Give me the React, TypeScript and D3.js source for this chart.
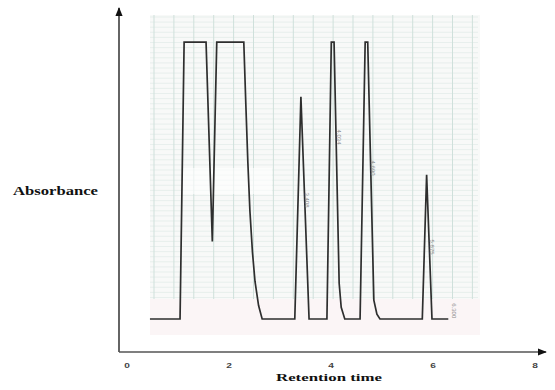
import React from "react";
import * as d3 from "d3";

// Chromatogram trace (retention time, absorbance in arbitrary units)
const traceTime = [0.45, 1.04, 1.12, 1.55, 1.673, 1.76, 2.29, 2.33, 2.37, 2.41, 2.46, 2.51, 2.58, 2.65, 3.29, 3.41, 3.57, 3.92, 4.006, 4.06, 4.16, 4.2, 4.27, 4.57, 4.67, 4.72, 4.84, 4.9, 4.96, 5.79, 5.875, 5.98, 6.3];
const traceAbs = [9.6, 9.6, 90.1, 90.1, 32.1, 90.1, 90.1, 72, 55, 41, 29, 20.5, 13.5, 9.6, 9.6, 74.2, 9.6, 9.6, 90.1, 90.1, 20, 13, 9.6, 9.6, 90.1, 90.1, 15.1, 11, 9.6, 9.6, 51.5, 9.6, 9.6];

// integrator annotations printed beside peaks
const annoTime = [3.49, 4.12, 4.78, 5.95, 6.38];
const annoAbs = [44.2, 62.5, 53.5, 30.5, 12];
const annoText = ["3.408", "4.034", "4.690", "5.875", "6.300"];

const xTicks = [0, 2, 4, 6, 8];

const W = 555;
const H = 390;

export default function App() {
  const x = d3.scaleLinear().domain([0, 8]).range([127, 535]);
  const y = d3.scaleLinear().domain([0, 100]).range([352, 8]);

  const line = d3
    .line<number>()
    .x((d, i) => x(traceTime[i]))
    .y((d) => y(d))
    .curve(d3.curveLinear);

  const paper = { x0: 150, x1: 480, y0: 15, y1: 335, gridBottom: 299 };
  const vLines: number[] = [];
  for (let v = 154; v <= 478; v += 19.9) vLines.push(v);
  const hLines: number[] = [];
  for (let h = 17; h <= paper.gridBottom; h += 5.1) hLines.push(h);

  return (
    <svg
      width={W}
      height={H}
      style={{ position: "absolute", left: 0, top: 0, background: "#fff" }}
      xmlns="http://www.w3.org/2000/svg"
    >
      <defs>
        <marker id="arr" viewBox="0 0 10 10" refX="9" refY="5" markerWidth="7" markerHeight="7" orient="auto">
          <path d="M0,1 L10,5 L0,9 z" fill="#111" />
        </marker>
      </defs>

      {/* chart paper */}
      <rect x={paper.x0} y={paper.y0} width={paper.x1 - paper.x0} height={paper.y1 - paper.y0} fill="#f8f9f8" />
      <rect x={paper.x0} y={paper.gridBottom} width={paper.x1 - paper.x0} height={paper.y1 - paper.gridBottom} fill="#fbf5f6" />
      {hLines.map((h, i) => (
        <line key={"h" + i} x1={paper.x0} x2={paper.x1 - 2} y1={h} y2={h} stroke="#e1ebe8" strokeWidth={0.7} />
      ))}
      {vLines.map((v, i) => (
        <line key={"v" + i} x1={v} x2={v} y1={paper.y0} y2={paper.gridBottom} stroke="#cfe0db" strokeWidth={1} />
      ))}
      {/* faded scan smudge */}
      <rect x={182} y={168} width={90} height={26} fill="#ffffff" opacity={0.6} />

      {/* trace */}
      <path d={line(traceAbs) || ""} fill="none" stroke="#2e2e2e" strokeWidth={1.7} strokeLinejoin="miter" />

      {/* annotations */}
      {annoTime.map((t, i) => (
        <text
          key={"a" + i}
          transform={`translate(${x(t)},${y(annoAbs[i])}) rotate(90)`}
          fontFamily="Liberation Sans"
          fontSize={6}
          fill="#8a8a8a"
          textAnchor="middle"
        >
          {annoText[i]}
        </text>
      ))}

      {/* axes */}
      <line x1={119} y1={352} x2={119} y2={8} stroke="#111" strokeWidth={1.3} markerEnd="url(#arr)" />
      <line x1={119} y1={352} x2={546} y2={352} stroke="#555" strokeWidth={1.3} markerEnd="url(#arr)" />

      {xTicks.map((t) => (
        <text
          key={"t" + t}
          transform={`translate(${x(t)},368) scale(1.35,1)`}
          fontFamily="Liberation Sans"
          fontWeight="bold"
          fontSize={7.5}
          fill="#444"
          textAnchor="middle"
        >
          {t}
        </text>
      ))}

      <text
        x={276}
        y={381}
        fontFamily="Liberation Serif"
        fontWeight="bold"
        fontSize={11}
        fill="#111"
        textLength={106}
        lengthAdjust="spacingAndGlyphs"
      >
        Retention time
      </text>
      <text
        x={13}
        y={195}
        fontFamily="Liberation Serif"
        fontWeight="bold"
        fontSize={12}
        fill="#111"
        textLength={85}
        lengthAdjust="spacingAndGlyphs"
      >
        Absorbance
      </text>
    </svg>
  );
}
